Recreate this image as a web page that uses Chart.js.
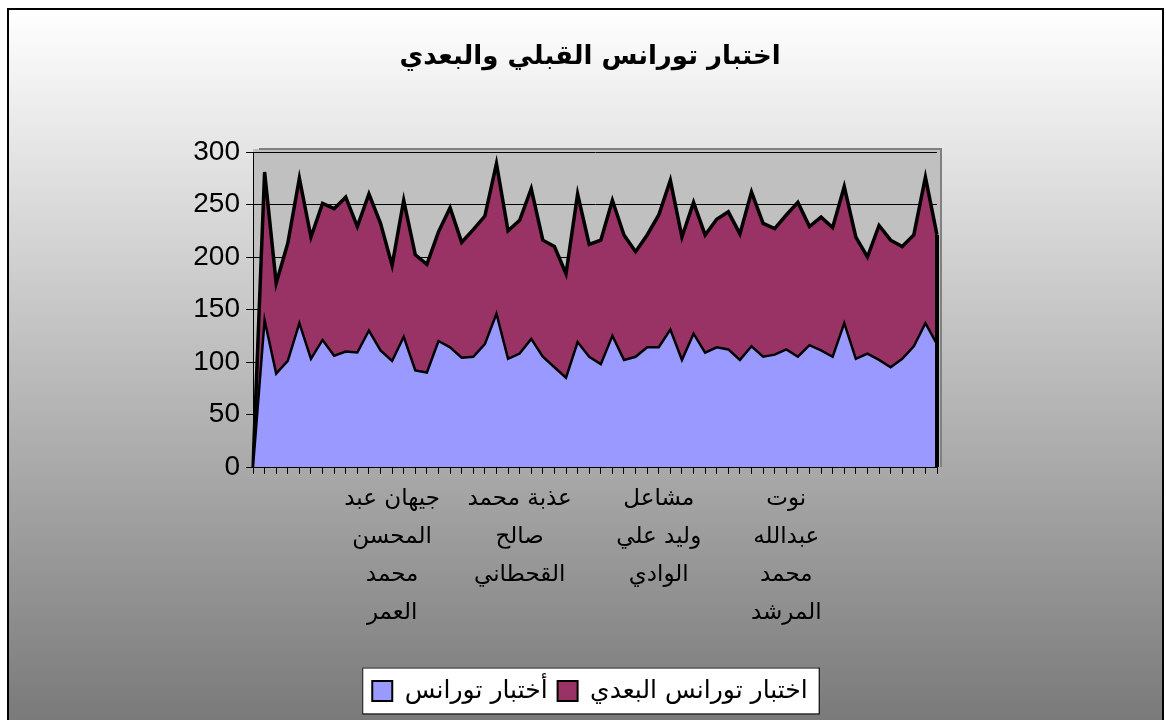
<!DOCTYPE html>
<html>
<head>
<meta charset="utf-8">
<script src="https://cdn.jsdelivr.net/npm/chart.js@4.4.1/dist/chart.umd.min.js"></script>
<style>
  html, body { margin: 0; padding: 0; background: #fff; }
  #wrap { position: relative; width: 1166px; height: 720px; }
</style>
</head>
<body>
<div id="wrap"><canvas id="chart" width="1166" height="720"></canvas></div>
<script>
// pre test (bottom, blue) and post test (stacked on top, maroon)
const preTest = [0, 140, 89, 101, 137, 103, 121, 106, 110, 109,
                 130, 111, 101, 124, 92, 90, 120, 114, 104, 105,
                 117, 146, 103, 108, 122, 105, 95, 85, 119, 105,
                 98, 125, 102, 105, 114, 114, 131, 102, 127, 109,
                 114, 112, 102, 115, 105, 107, 112, 105, 116, 111,
                 105, 137, 103, 108, 102, 95, 103, 115, 137, 117];
const postTest = [0, 141, 86, 112, 138, 116, 130, 140, 147, 120,
                  130, 121, 91, 130, 110, 103, 104, 133, 110, 121,
                  122, 143, 122, 127, 143, 111, 115, 99, 141, 107,
                  118, 129, 119, 100, 107, 126, 142, 117, 125, 112,
                  122, 131, 120, 147, 127, 120, 128, 147, 113, 127,
                  123, 130, 116, 92, 128, 121, 107, 106, 139, 104];

// only a few student names are printed on the axis
const shownNames = {
    12: ['جيهان عبد', 'المحسن', 'محمد', 'العمر'],
    23: ['عذبة محمد', 'صالح', 'القحطاني'],
    35: ['مشاعل', 'وليد علي', 'الوادي'],
    46: ['نوت', 'عبدالله', 'محمد', 'المرشد']
};
const categories = preTest.map((v, i) => shownNames[i] || '');

const seriesNames = ['أختبار تورانس', 'اختبار تورانس البعدي'];
const chartTitle = 'اختبار تورانس القبلي والبعدي';
const yMin = 0, yMax = 300, yStep = 50;

const arabicFont = '"DejaVu Sans"';
const numberFont = '"Liberation Sans", Arial';

// background, plot wall, legend frame and the closing edge of the area
const framePlugin = {
    id: 'framePlugin',
    beforeDraw(chart) {
        const { ctx, chartArea: a, height } = chart;
        ctx.save();
        const g = ctx.createLinearGradient(0, 9, 0, height);
        g.addColorStop(0, '#ffffff');
        g.addColorStop(1, '#7a7a7a');
        ctx.fillStyle = g;
        ctx.fillRect(8, 9, 1155, height - 9);
        ctx.strokeStyle = '#000';
        ctx.lineWidth = 2;
        ctx.beginPath();
        ctx.moveTo(8, height);
        ctx.lineTo(8, 9);
        ctx.lineTo(1163, 9);
        ctx.lineTo(1163, height);
        ctx.stroke();

        // plot area (back wall)
        ctx.fillStyle = '#c0c0c0';
        ctx.fillRect(a.left, a.top - 3, a.right - a.left + 3, a.bottom - a.top + 3);
        ctx.strokeStyle = '#808080';
        ctx.lineWidth = 2;
        ctx.beginPath();
        ctx.moveTo(a.left + 6, a.top - 3);
        ctx.lineTo(a.right + 4, a.top - 3);
        ctx.lineTo(a.right + 4, a.bottom);
        ctx.stroke();

        // white legend box
        const boxes = chart.legend.legendHitBoxes;
        if (boxes && boxes.length) {
            const left = Math.min(...boxes.map(b => b.left)) - 10;
            const right = Math.max(...boxes.map(b => b.left + b.width)) + 11;
            const top = boxes[0].top - 11;
            const bottom = boxes[0].top + boxes[0].height + 10;
            ctx.fillStyle = '#fff';
            ctx.fillRect(left, top, right - left, bottom - top);
            ctx.strokeStyle = '#000';
            ctx.lineWidth = 1;
            ctx.strokeRect(left + 0.5, top + 0.5, right - left, bottom - top);
        }
        ctx.restore();
    },
    afterDatasetsDraw(chart) {
        const { ctx, chartArea: a } = chart;
        const meta = chart.getDatasetMeta(1);
        const last = meta.data[meta.data.length - 1];
        if (!last) return;
        ctx.save();
        ctx.strokeStyle = '#000';
        ctx.lineWidth = 4;
        ctx.beginPath();
        ctx.moveTo(last.x, last.y);
        ctx.lineTo(last.x, a.bottom);
        ctx.stroke();
        ctx.restore();
    }
};

new Chart(document.getElementById('chart'), {
    type: 'line',
    data: {
        labels: categories,
        datasets: [{
            label: seriesNames[0],
            data: preTest,
            backgroundColor: '#9999ff',
            borderColor: '#000',
            borderWidth: 2.5,
            fill: 'origin',
            pointRadius: 0,
            tension: 0
        }, {
            label: seriesNames[1],
            data: postTest,
            backgroundColor: '#993366',
            borderColor: '#000',
            borderWidth: 3.5,
            fill: '-1',
            pointRadius: 0,
            tension: 0
        }]
    },
    options: {
        responsive: false,
        animation: false,
        layout: { padding: { left: 14, right: 0, top: 0, bottom: 6.5 } },
        plugins: {
            title: {
                display: true,
                text: chartTitle,
                color: '#000',
                font: { family: arabicFont, size: 26, weight: 'bold' },
                padding: { top: 42, bottom: 78.8 }
            },
            legend: {
                position: 'bottom',
                labels: {
                    color: '#000',
                    font: { family: arabicFont, size: 25 },
                    boxWidth: 20,
                    boxHeight: 20,
                    padding: 10,
                    generateLabels(chart) {
                        return Chart.defaults.plugins.legend.labels.generateLabels(chart)
                            .map(item => Object.assign(item, { lineWidth: 2, strokeStyle: '#000' }));
                    }
                }
            },
            tooltip: { enabled: false }
        },
        scales: {
            x: {
                type: 'category',
                offset: false,
                grid: { drawOnChartArea: false, drawTicks: true, tickLength: 7, color: '#000' },
                border: { color: '#000', width: 1 },
                ticks: {
                    autoSkip: false,
                    maxRotation: 0,
                    minRotation: 0,
                    padding: 6,
                    color: '#000',
                    font: { family: arabicFont, size: 23, lineHeight: '38px' }
                },
                afterFit(scale) { scale.height = 201.5; }
            },
            y: {
                stacked: true,
                min: yMin,
                max: yMax,
                grid: { color: '#000', lineWidth: 1, tickLength: 7 },
                border: { color: '#000', width: 1 },
                ticks: {
                    stepSize: yStep,
                    padding: 6,
                    color: '#000',
                    font: { family: numberFont, size: 28 }
                },
                afterFit(scale) { scale.width = 239; }
            },
            yRight: {
                position: 'right',
                display: true,
                grid: { display: false },
                border: { display: false },
                ticks: { display: false },
                afterFit(scale) { scale.width = 229; }
            }
        }
    },
    plugins: [framePlugin]
});
</script>
</body>
</html>
